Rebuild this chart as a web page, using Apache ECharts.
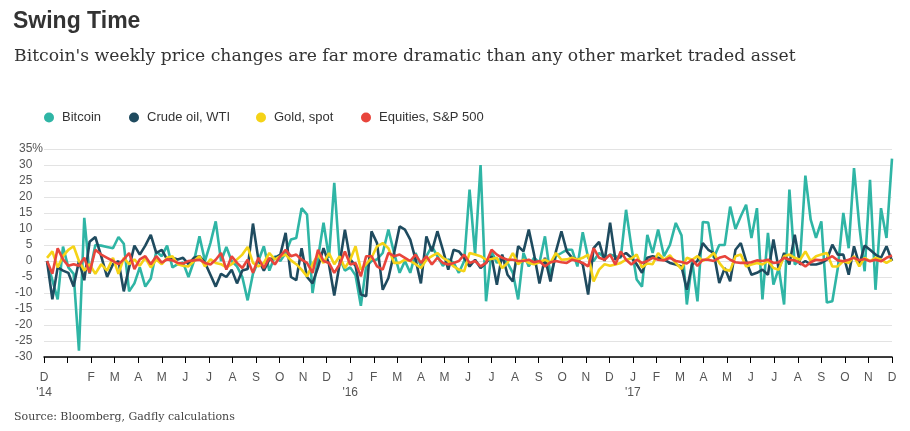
<!DOCTYPE html>
<html>
<head>
<meta charset="utf-8">
<script src="https://cdn.jsdelivr.net/npm/echarts@6/dist/echarts.min.js"></script>
<style>
  html, body { margin: 0; padding: 0; background: #fff; }
  #chart { width: 910px; height: 431px; }
</style>
</head>
<body>
<div id="chart"></div>
<script>
// Weekly price changes, %, one value per week (weeks ending Friday, from 5 Dec 2014)
const FIRST_WEEK = '2014-12-05';

const bitcoin = [
  0, -6, -12, 4.5, -2, -4, -28, 13.5, -4, 5,
  4.8, 4.4, 4, 7.5, 5.4, -9.5, -7, -2, -8, -5.5,
  3, 1.5, 4.8, -2, -1, -0.5, -5, 0, 7.7, 0,
  5.6, 12.4, 0, 4.4, 0, -1.7, -5, -12.3, -4, 0,
  4.6, -3, 1.5, 0, 2.5, 6.7, 7.2, 16.5, 14.5, -10,
  1, 12, 1, 24.4, 1, -3, -2, -4.5, -14, -1.7,
  0, 0.5, 2.5, 9.8, 2.5, -3.7, 0, -3.7, 2.5, -1.5,
  1.5, 4.6, 1.5, -1.5, 0.5, -0.5, -3.7, 0, 22.3, 2,
  30, -12.6, 3, -0.6, 1.5, -0.6, -3.7, -12, 2.5, -1.7,
  1, -0.6, 7.7, -4.5, 1.5, 2.5, 3.5, 3.5, -1.7, 9,
  1, 0, 2.5, 1, 2, 1.5, 1, 16, 4.5, -5.8,
  -8, 8.2, 2.5, 9.8, 1.5, 5, 11.9, 8, -13.6, 0,
  -12.6, 12.2, 12, 1, 5, 5, 17, 10, 14, 17.6,
  7.2, 16.5, -12, 8.8, -7.4, -2.2, -13.6, 22.3, -1.1, 0.4,
  26.7, 12.9, 7.2, 12.4, -13, -12.6, -2.2, 15, 4, 29,
  11, -3.2, 25.4, -9, 16.5, 7.2, 32
];

const crudeOil = [
  0, -12, -2, -3, -3.7, -8, 0, -6, 6, 7.5,
  1.5, -5, -1, 0, -9.5, -2, 4.8, 2, 4.8, 8.2,
  2.5, 3.5, 0.5, 1, 0.5, 1, -1, 1, 1.5, -0.5,
  -4.3, -8, -4, -5, -2.7, -7, -3, -2.5, 11.7, 0.5,
  -3, 0.5, 1, 2, 8.8, -5, -6, 4, -5, -7,
  -2, 4, -1, -10.8, -1, 9.8, 0.5, -1.5, -10.5, -11,
  9.3, 5.6, -9, -5.3, 2.5, 10.8, 9.8, 6.7, 0.5, -7,
  7.7, 3, 9.3, 3.5, -2.7, 3.5, 3, 1, -1.7, 0.4,
  -2.2, -0.6, 1.5, -7.4, 2, -4.3, -6.4, 4.6, 3, 9.8,
  2, -7, 1, -6.4, 3, 9.3, 3, 1, 0.5, -1,
  -10.5, 4, 6, 0, 12, 0.4, 1.5, 2.5, 1, -1,
  -3.7, 1, 1.5, 1, 0.4, -0.6, -1.1, -1.7, -9, -1,
  0, 5.6, 3.5, 2.5, -6.9, -2.2, -6.3, 3.5, 5.6, 0,
  -4.3, -3.7, -2.7, -4.3, 6.7, -2.7, 2.5, -1.1, 8.2, -1.1,
  0, -1.1, -1.1, -0.6, 0.4, 5.1, 2, 2, -4.3, 4.6,
  -1.1, 4.8, 3.5, 2, 1, 4.6, 0
];

const gold = [
  1, 3, -2, 1.5, 3.5, 4.6, 0, -3, -1, -4,
  -1, -3, 1, -4, 1, -1, 0.5, -1.5, 1, -2,
  0.5, -1, 1, 1.5, -1, -1.5, -1.7, 0, 1.5, -1.7,
  0.5, -0.6, -1, -2, -1, 0.5, 2, 4.4, -0.6, -1.7,
  -0.6, 2.5, 0.5, 1.5, 2, 0.2, -1, -2.7, -4.8, -1,
  2, -0.6, 2.5, -1, 1.5, -2.2, 0.4, 4.6, -2.7, -1,
  1, 4.6, 5.6, 4, -0.6, -0.6, 0.4, 0, -1, -2.2,
  0.4, 1.5, 2.5, 1, 0, -1.7, -2.7, -3.2, 2.5, 2,
  1.5, 0.4, 0.6, 1, -2.2, -0.6, 2.5, -1, 0.4, -0.6,
  -1, -0.4, 0.4, -0.6, 2.5, 0.4, 0.5, 1, 0.4, 1,
  2, -6.4, -2.7, -1, -1.5, -1.1, -0.6, 0.4, 0.8, 2,
  -2, -0.8, -1, 2.5, 0.4, 1.8, -0.6, -2.5, 1, 0.4,
  1.5, 0, 1, 2.5, -0.6, -2.7, -3, 1.5, 2, -1.7,
  -1.1, -0.6, -1.1, 0, -2.2, -2.7, 1.5, 2, 1, 0.4,
  3, 0, 1.5, 2, 2.5, -1.7, -1.7, 0, -0.6, 1.5,
  -1.7, 1, 0, 1, 0.4, -0.6, 0.4
];

const equities = [
  0, -4, 4, 0.5, -1.5, -1, -1.5, 1, -3.7, 3.5,
  2, 1, 0, -1, 0.5, 2.5, -2.5, 0.5, 1.5, -1,
  1.5, -0.5, 0.5, 0.2, -0.6, -0.8, 0, 0.2, 0.4, -0.6,
  -1.1, 0.4, 2.5, -2.7, 1.5, -0.6, -2.2, 0.4, -3.7, 1,
  -2.2, 1, -1.1, 1.5, 3.5, 1.5, 2, 0.4, -0.6, -3.7,
  3.5, 0, -0.6, -3.7, -1.1, 3, -1.1, -0.6, -4.8, 1.5,
  1.5, -1.7, -2.7, 2.5, 1.5, 2, 1, 0, 2, -0.6,
  1.5, -1.1, 1, -0.6, -1.1, -0.6, 0, 2, -0.6, 0,
  -1.7, -0.6, 3.5, 2, 1, 0.4, 0.4, 0, 0, 0.4,
  -0.4, 0, -1.7, -0.4, 0, -0.4, -0.6, 0.4, 0, -0.6,
  -1.7, 4, 1, 0.4, 2, -1.1, 3, 0.4, -1.1, 0.4,
  -0.6, 0, 1, 0.4, 0.2, 1, 0, -0.3, -0.8, 0.4,
  -1.5, 0.4, 0.4, 0, 1, 1.5, 0.4, -0.4, -0.6, -0.6,
  -0.4, 0.2, 0, 0.4, -0.6, -0.4, 1, 0.4, 0.2, -0.6,
  -1.7, -0.4, 0.4, 0.2, 0.6, 1.5, 0.2, -0.1, 0.4, 1,
  0.2, 0.6, -0.1, 0.4, -0.1, 1, 1.7
];

// Month tick labels from Dec 2014 to Dec 2017 (one per month boundary)
const monthLabels = [
  "D\n'14", '', 'F', 'M', 'A', 'M', 'J', 'J', 'A', 'S', 'O', 'N', 'D',
  "J\n'16", 'F', 'M', 'A', 'M', 'J', 'J', 'A', 'S', 'O', 'N', 'D',
  "J\n'17", 'F', 'M', 'A', 'M', 'J', 'J', 'A', 'S', 'O', 'N', 'D'
];

const seriesNames = ['Bitcoin', 'Crude oil, WTI', 'Gold, spot', 'Equities, S&P 500'];
const seriesColors = ['#2fb5a5', '#1f4b5f', '#f5d317', '#e8453c'];

// ---- helpers ----
// position of a date in months since 1 Dec 2014
function monthPos(d) {
  const y = d.getUTCFullYear(), m = d.getUTCMonth(), day = d.getUTCDate();
  const dim = new Date(Date.UTC(y, m + 1, 0)).getUTCDate();
  return (y - 2014) * 12 + (m - 11) + (day - 1) / dim;
}
const firstWeek = new Date(FIRST_WEEK + 'T00:00:00Z').getTime();
function toPoints(values) {
  return values.map((v, i) => [monthPos(new Date(firstWeek + i * 7 * 864e5)), v]);
}

const FONT = "'Liberation Sans', Arial, sans-serif";
const SERIF = "'DejaVu Serif', 'Liberation Serif', serif";

const allValues = [bitcoin, crudeOil, gold, equities];
const legendLefts = [44, 129, 256, 361];

const chart = echarts.init(document.getElementById('chart'), null, { renderer: 'canvas' });
chart.setOption({
  animation: false,
  backgroundColor: '#ffffff',
  textStyle: { fontFamily: FONT },
  title: [
    { text: 'Swing Time', left: 13, top: 10, padding: 0,
      textStyle: { fontFamily: FONT, fontSize: 23, fontWeight: 'bold', color: '#333333' } },
    { text: "Bitcoin's weekly price changes are far more dramatic than any other market traded asset",
      left: 14, top: 48, padding: 0,
      textStyle: { fontFamily: SERIF, fontSize: 17.2, fontWeight: 'normal', color: '#333333' } },
    { text: 'Source: Bloomberg, Gadfly calculations', left: 14, top: 412, padding: 0,
      textStyle: { fontFamily: SERIF, fontSize: 11, fontWeight: 'normal', color: '#444444' } }
  ],
  legend: seriesNames.map((n, k) => ({
    data: [n], left: legendLefts[k], top: 111, padding: 0,
    icon: 'circle', itemWidth: 16, itemHeight: 10,
    textStyle: { fontFamily: FONT, fontSize: 13, color: '#333333' }
  })),
  grid: { left: 44, right: 18, top: 149, bottom: 74 },
  xAxis: {
    type: 'value', min: 0, max: 36, interval: 1,
    axisLine: { show: true, onZero: false, lineStyle: { color: '#000000', width: 1.5 } },
    axisTick: { show: true, length: 6, lineStyle: { color: '#000000', width: 1 } },
    splitLine: { show: false },
    axisLabel: {
      margin: 13, color: '#555555', fontSize: 12, lineHeight: 15, fontFamily: FONT,
      formatter: v => monthLabels[Math.round(v)] || ''
    }
  },
  yAxis: {
    type: 'value', min: -30, max: 35, interval: 5,
    axisLine: { show: false }, axisTick: { show: false },
    splitLine: { lineStyle: { color: '#e3e3e3', width: 1 } },
    axisLabel: {
      margin: 1, color: '#555555', fontSize: 12, fontFamily: FONT,
      formatter: v => v === 35 ? '35%' : v + '{s|%}',
      rich: {
        s: { fontSize: 12, fontFamily: FONT, color: 'rgba(0,0,0,0)' }
      }
    }
  },
  series: allValues.map((vals, k) => ({
    name: seriesNames[k], type: 'line', data: toPoints(vals),
    showSymbol: false, symbol: 'none', clip: false,
    color: seriesColors[k],
    lineStyle: { width: 2.6, color: seriesColors[k] },
    z: 2 + k
  }))
});
</script>
</body>
</html>
